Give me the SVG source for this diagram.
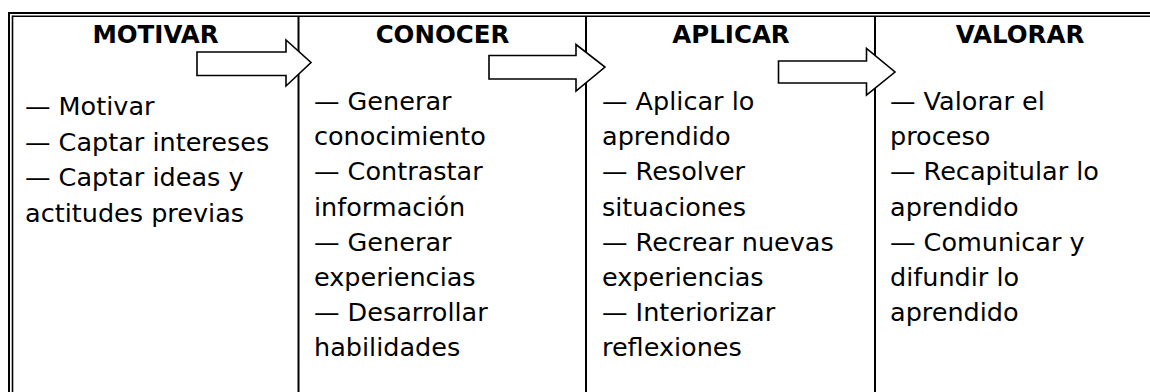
<svg xmlns="http://www.w3.org/2000/svg" width="1150" height="392" viewBox="0 0 1150 392">
<style>
.frame{stroke:#000;fill:none}
.div{stroke:#000;stroke-width:2;fill:none}
.arrow{fill:#fff;stroke:#000;stroke-width:1.6;stroke-linejoin:miter}
.hd{font-family:"DejaVu Sans",sans-serif;font-weight:bold;font-size:24.5px;fill:#000;text-anchor:middle}
.tx{font-family:"DejaVu Sans",sans-serif;font-size:25.5px;fill:#000}
</style>
<rect width="1150" height="392" fill="#fff"/>
<g id="frame">
<line class="frame" x1="9" y1="13" x2="1150" y2="13" stroke-width="2"/>
<line class="frame" x1="12.5" y1="16.3" x2="1150" y2="16.3" stroke-width="1.6"/>
<line class="frame" x1="9" y1="12" x2="9" y2="392" stroke-width="2"/>
<line class="frame" x1="12.5" y1="15.5" x2="12.5" y2="392" stroke-width="1.6"/>
<line class="div" x1="298.5" y1="17" x2="298.5" y2="392"/>
<line class="div" x1="586" y1="17" x2="586" y2="392"/>
<line class="div" x1="875" y1="17" x2="875" y2="392"/>
</g>
<g id="motivar">
<text class="hd" x="155.5" y="43">MOTIVAR</text>
<text class="tx" x="25" y="115">— Motivar</text>
<text class="tx" x="25" y="150.5">— Captar intereses</text>
<text class="tx" x="25" y="186">— Captar ideas y</text>
<text class="tx" x="25" y="221.5">actitudes previas</text>
</g>
<g id="conocer">
<text class="hd" x="442.5" y="43">CONOCER</text>
<text class="tx" x="314" y="110">— Generar</text>
<text class="tx" x="314" y="145.2">conocimiento</text>
<text class="tx" x="314" y="180.4">— Contrastar</text>
<text class="tx" x="314" y="215.6">información</text>
<text class="tx" x="314" y="250.8">— Generar</text>
<text class="tx" x="314" y="286">experiencias</text>
<text class="tx" x="314" y="321.2">— Desarrollar</text>
<text class="tx" x="314" y="356.4">habilidades</text>
</g>
<g id="aplicar">
<text class="hd" x="731" y="43">APLICAR</text>
<text class="tx" x="602" y="110">— Aplicar lo</text>
<text class="tx" x="602" y="145.2">aprendido</text>
<text class="tx" x="602" y="180.4">— Resolver</text>
<text class="tx" x="602" y="215.6">situaciones</text>
<text class="tx" x="602" y="250.8">— Recrear nuevas</text>
<text class="tx" x="602" y="286">experiencias</text>
<text class="tx" x="602" y="321.2">— Interiorizar</text>
<text class="tx" x="602" y="356.4">reflexiones</text>
</g>
<g id="valorar">
<text class="hd" x="1020" y="43">VALORAR</text>
<text class="tx" x="890" y="110">— Valorar el</text>
<text class="tx" x="890" y="145.2">proceso</text>
<text class="tx" x="890" y="180.4">— Recapitular lo</text>
<text class="tx" x="890" y="215.6">aprendido</text>
<text class="tx" x="890" y="250.8">— Comunicar y</text>
<text class="tx" x="890" y="286">difundir lo</text>
<text class="tx" x="890" y="321.2">aprendido</text>
</g>
<g id="connectors">
<polygon class="arrow" points="197,52 286,52 286,40 311,62.5 286,86 286,75.5 197,75.5"/>
<polygon class="arrow" points="489,55.5 576,55.5 576,44.5 605,67 576,91 576,79 489,79"/>
<polygon class="arrow" points="778.5,61 866.5,61 866.5,48.5 895,72 866.5,95 866.5,83 778.5,83"/>
</g>
</svg>
